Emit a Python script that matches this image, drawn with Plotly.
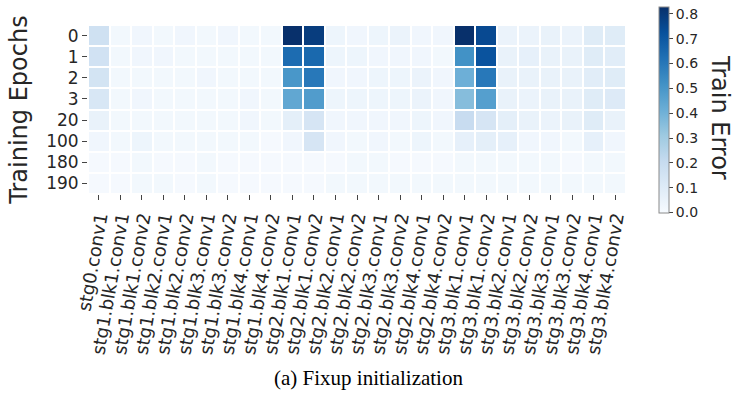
import plotly.graph_objects as go

# Layer names (columns) and training epochs (rows)
layers = [
    "stg0.conv1",
    "stg1.blk1.conv1", "stg1.blk1.conv2", "stg1.blk2.conv1", "stg1.blk2.conv2",
    "stg1.blk3.conv1", "stg1.blk3.conv2", "stg1.blk4.conv1", "stg1.blk4.conv2",
    "stg2.blk1.conv1", "stg2.blk1.conv2", "stg2.blk2.conv1", "stg2.blk2.conv2",
    "stg2.blk3.conv1", "stg2.blk3.conv2", "stg2.blk4.conv1", "stg2.blk4.conv2",
    "stg3.blk1.conv1", "stg3.blk1.conv2", "stg3.blk2.conv1", "stg3.blk2.conv2",
    "stg3.blk3.conv1", "stg3.blk3.conv2", "stg3.blk4.conv1", "stg3.blk4.conv2",
]
epochs = ["0", "1", "2", "3", "20", "100", "180", "190"]

# Train error per epoch (row) and layer (column)
err_epoch_0 = [0.17, 0.02, 0.03, 0.02, 0.03, 0.02, 0.03, 0.02, 0.02,
               0.83, 0.79, 0.04, 0.03, 0.04, 0.05, 0.03, 0.03,
               0.83, 0.75, 0.05, 0.05, 0.06, 0.05, 0.10, 0.10]
err_epoch_1 = [0.16, 0.02, 0.03, 0.03, 0.02, 0.02, 0.02, 0.02, 0.02,
               0.64, 0.65, 0.04, 0.04, 0.03, 0.03, 0.03, 0.02,
               0.52, 0.72, 0.06, 0.07, 0.06, 0.06, 0.10, 0.09]
err_epoch_2 = [0.15, 0.02, 0.02, 0.02, 0.02, 0.03, 0.02, 0.02, 0.02,
               0.50, 0.60, 0.03, 0.03, 0.04, 0.04, 0.05, 0.03,
               0.41, 0.60, 0.06, 0.06, 0.06, 0.06, 0.09, 0.10]
err_epoch_3 = [0.13, 0.02, 0.03, 0.02, 0.02, 0.02, 0.02, 0.03, 0.02,
               0.44, 0.48, 0.04, 0.04, 0.04, 0.04, 0.05, 0.03,
               0.36, 0.47, 0.06, 0.05, 0.06, 0.06, 0.10, 0.11]
err_epoch_20 = [0.06, 0.02, 0.02, 0.02, 0.02, 0.02, 0.02, 0.03, 0.02,
                0.08, 0.14, 0.03, 0.03, 0.03, 0.03, 0.04, 0.03,
                0.20, 0.14, 0.08, 0.06, 0.05, 0.06, 0.10, 0.06]
err_epoch_100 = [0.03, 0.02, 0.04, 0.02, 0.02, 0.02, 0.02, 0.02, 0.01,
                 0.03, 0.14, 0.03, 0.02, 0.03, 0.02, 0.04, 0.02,
                 0.07, 0.08, 0.07, 0.03, 0.03, 0.02, 0.07, 0.03]
err_epoch_180 = [0.01, 0.01, 0.02, 0.01, 0.01, 0.02, 0.01, 0.01, 0.01,
                 0.01, 0.01, 0.01, 0.02, 0.02, 0.01, 0.01, 0.01,
                 0.02, 0.02, 0.02, 0.02, 0.02, 0.01, 0.02, 0.02]
err_epoch_190 = [0.01, 0.01, 0.02, 0.02, 0.01, 0.02, 0.01, 0.01, 0.01,
                 0.01, 0.01, 0.02, 0.02, 0.02, 0.02, 0.02, 0.02,
                 0.02, 0.02, 0.02, 0.02, 0.02, 0.02, 0.02, 0.02]

z = [err_epoch_0, err_epoch_1, err_epoch_2, err_epoch_3,
     err_epoch_20, err_epoch_100, err_epoch_180, err_epoch_190]
zmax = max(max(r) for r in z)

blues = [
    [0.0, "#f7fbff"], [0.125, "#deebf7"], [0.25, "#c6dbef"],
    [0.375, "#9ecae1"], [0.5, "#6baed6"], [0.625, "#4292c6"],
    [0.75, "#2171b5"], [0.875, "#08519c"], [1.0, "#08306b"],
]

TXT = "#262626"
SANS = "DejaVu Sans"

fig = go.Figure(
    go.Heatmap(
        z=z, x=layers, y=epochs,
        colorscale=blues, zmin=0, zmax=zmax,
        xgap=2, ygap=2,
        colorbar=dict(
            thickness=10, len=206, lenmode="pixels", xpad=0, ypad=0,
            x=1.061, xanchor="left", y=0.5, yanchor="middle",
            outlinewidth=1, outlinecolor="#8a8a8a",
            tickvals=[0, 0.1, 0.2, 0.3, 0.4, 0.5, 0.6, 0.7, 0.8],
            ticktext=["0.0", "0.1", "0.2", "0.3", "0.4", "0.5", "0.6", "0.7", "0.8"],
            ticks="outside", ticklen=4, tickcolor="#444", tickwidth=1,
            tickfont=dict(family=SANS, size=14, color=TXT),
        ),
    )
)

fig.update_xaxes(
    type="category", tickmode="linear", dtick=1, tickangle=-80,
    showgrid=False, zeroline=False, showline=False,
    ticks="outside", ticklen=5, tickcolor="#444", tickwidth=1,
    tickfont=dict(family=SANS, size=18, color=TXT),
)
fig.update_yaxes(
    type="category", autorange="reversed", showgrid=False, zeroline=False, showline=False,
    ticks="outside", ticklen=5, tickcolor="#444", tickwidth=1,
    tickfont=dict(family=SANS, size=17, color=TXT),
    title=dict(text="Training Epochs", font=dict(family=SANS, size=24, color=TXT), standoff=11),
)

# colorbar caption, rotated to read downward
fig.add_annotation(
    text="Train Error", xref="paper", yref="paper",
    x=(720 - 88) / 538, y=(194 - 117) / 169, xanchor="center", yanchor="middle",
    textangle=90, showarrow=False, font=dict(family=SANS, size=24, color=TXT),
)

fig.add_annotation(
    text="(a) Fixup initialization", xref="paper", yref="paper",
    x=(368 - 88) / 538, y=-(378 - 194) / 169, xanchor="center", yanchor="middle",
    showarrow=False, font=dict(family="Liberation Serif", size=21, color="black"),
)

fig.update_layout(
    width=735, height=399,
    margin=dict(l=88, r=109, t=25, b=205, autoexpand=False),
    paper_bgcolor="white", plot_bgcolor="white",
)

fig.write_html("out.html")
